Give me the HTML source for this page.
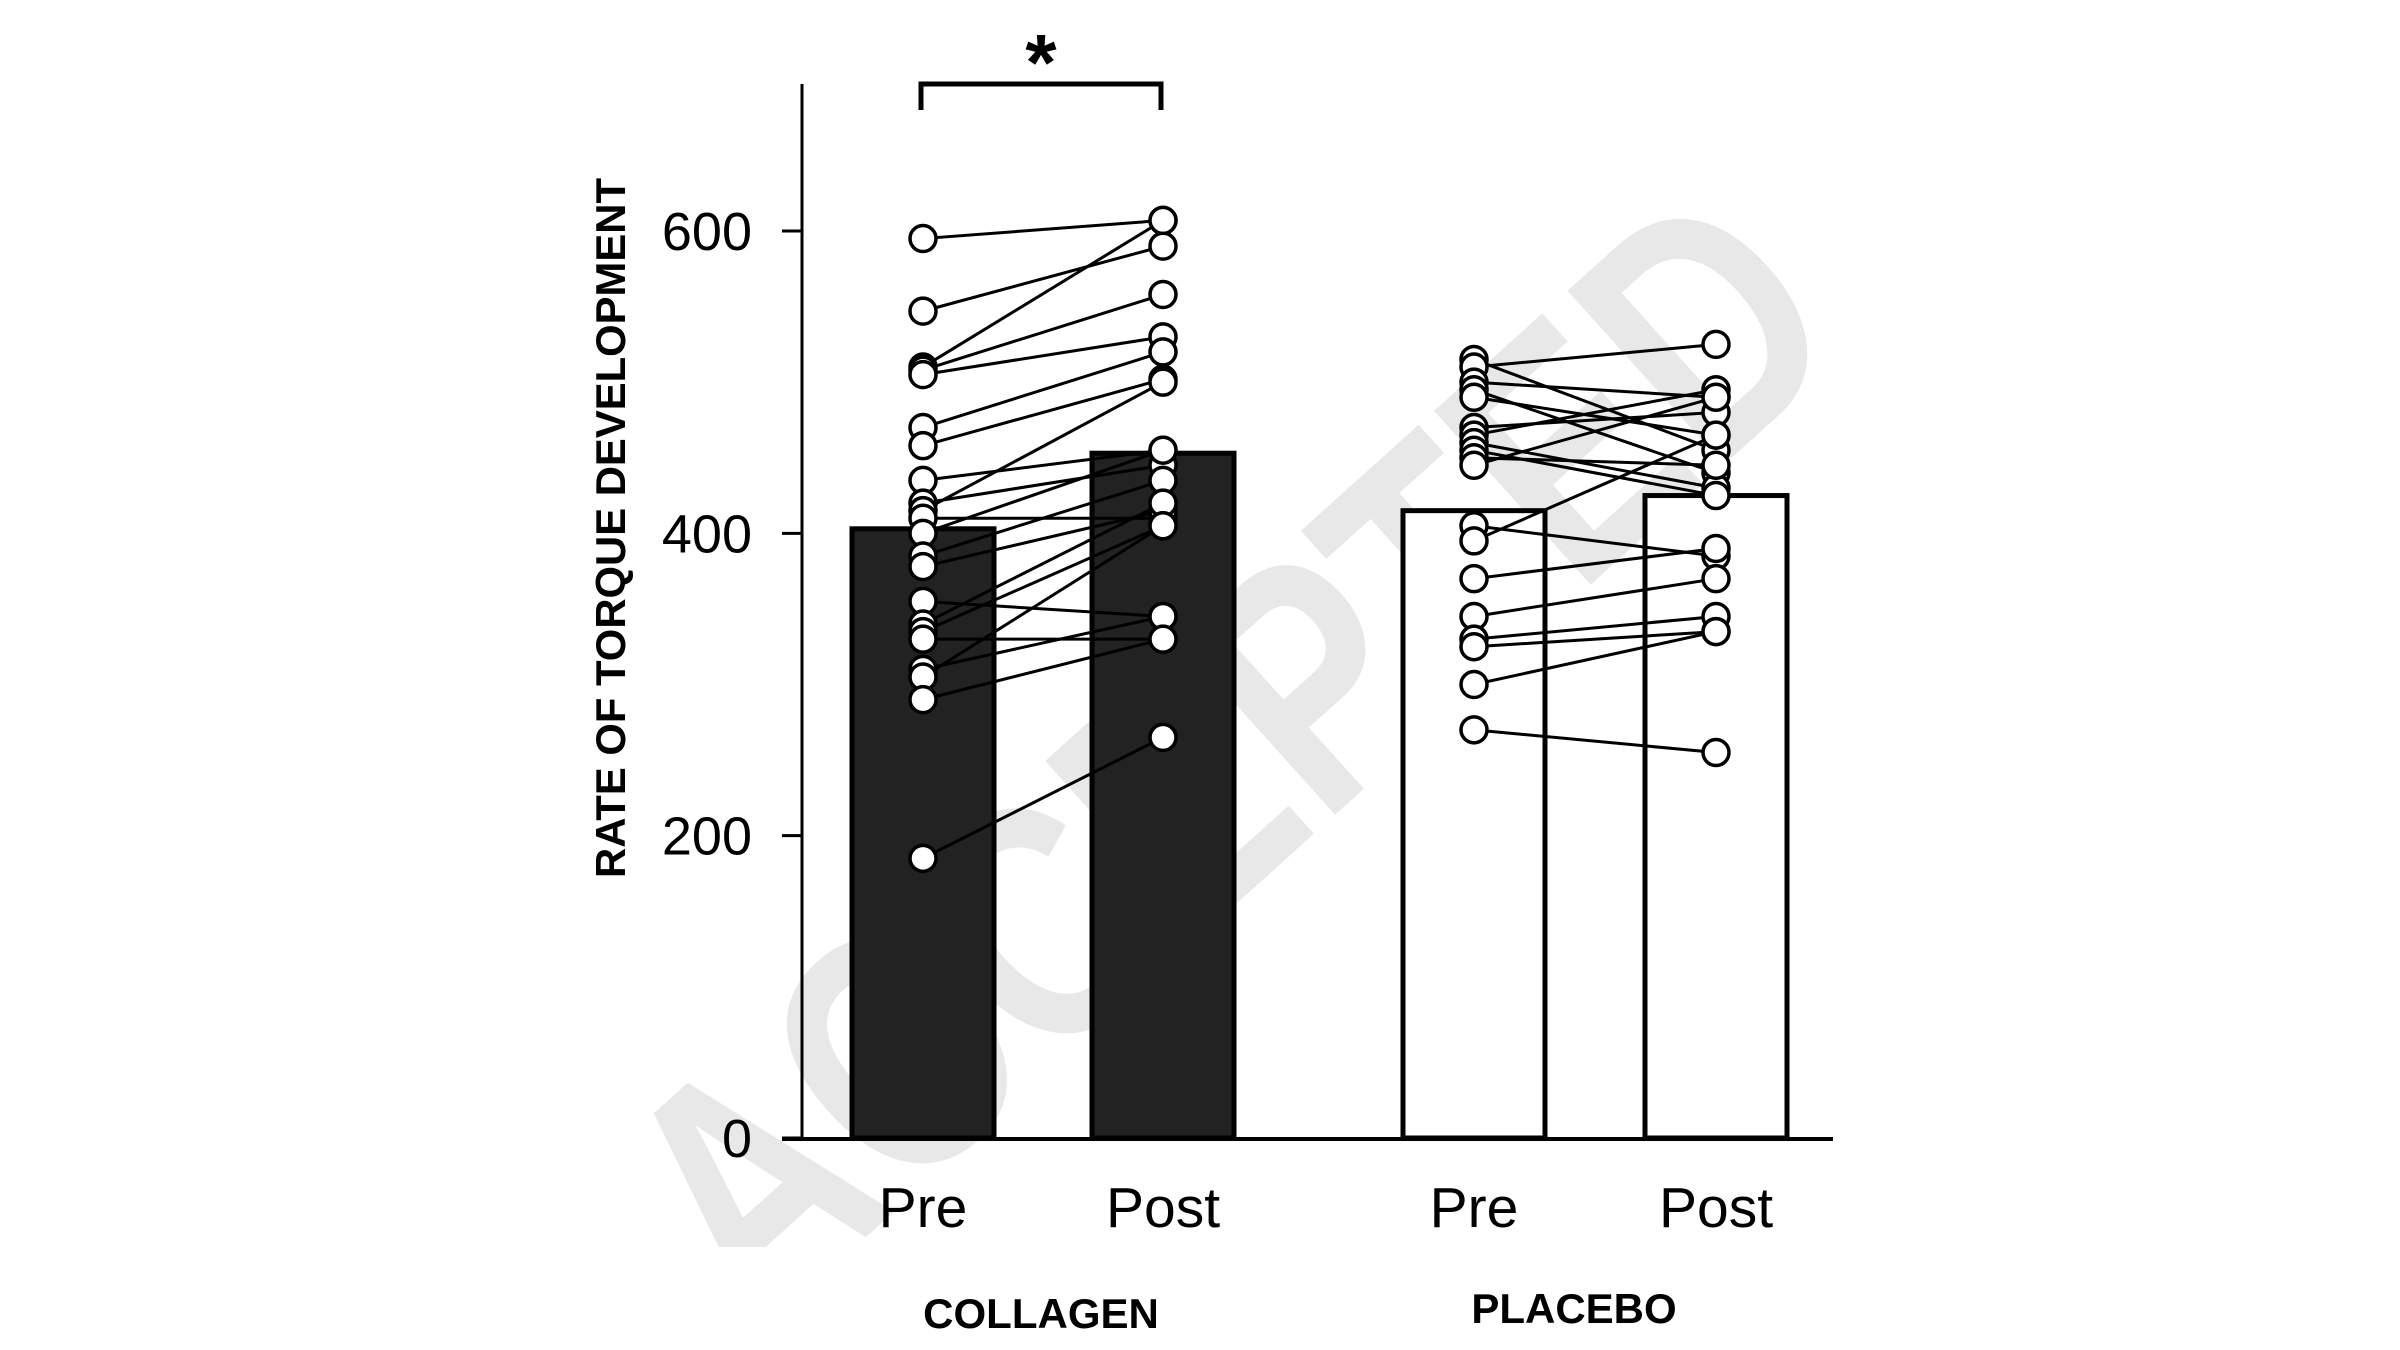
<!DOCTYPE html>
<html><head><meta charset="utf-8"><style>
html,body{margin:0;padding:0;background:#fff;width:2400px;height:1350px;overflow:hidden}
svg{display:block}
</style></head><body>
<svg id="chart" width="2400" height="1350" viewBox="0 0 2400 1350" xmlns="http://www.w3.org/2000/svg" style="overflow:hidden">
<defs><clipPath id="wmclip"><rect x="0" y="0" width="2400" height="1247"/></clipPath></defs>
<g clip-path="url(#wmclip)"><text x="0" y="0" transform="translate(1245,775) rotate(-42)" text-anchor="middle" dominant-baseline="middle" font-family="Liberation Sans, sans-serif" font-weight="bold" font-size="340" fill="#e8e8e8" textLength="1480" lengthAdjust="spacingAndGlyphs">ACCEPTED</text></g>
<g id="plot" transform="translate(-3,-6)"></g>
</svg>
<script>
const groups = ["COLLAGEN", "PLACEBO"];
const conditions = ["Pre", "Post"];
const barMeans = [403, 453, 415, 425];
const collagenPre  = [595,547,510,508,505,470,458,435,420,415,410,400,385,378,355,340,335,330,310,305,290,185];
const collagenPost = [607,590,607,558,530,520,502,455,445,500,410,455,435,415,345,420,405,330,345,405,330,265];
const placeboPre  = [515,510,500,495,490,470,465,460,455,450,445,405,395,370,345,330,325,300,270];
const placeboPost = [455,525,490,440,465,480,495,430,425,445,490,385,465,390,370,345,335,335,255];
const yTicks = [0,200,400,600];

const NS = "http://www.w3.org/2000/svg";
const g = document.getElementById("plot");
const y0 = 1144, yScale = (1144-237)/600;
const y = v => y0 - v*yScale;
const barX = [855, 1095, 1406, 1648], barW = 142;
const cx = i => barX[i] + barW/2;
function el(tag, attrs, parent){ const e=document.createElementNS(NS,tag); for(const k in attrs) e.setAttribute(k,attrs[k]); (parent||g).appendChild(e); return e; }

barMeans.forEach((m,i)=>{
  const r = el("rect",{x:barX[i],y:y(m),width:barW,height:y0-y(m),fill:i<2?"#222":"#fff",stroke:"#000","stroke-width":5});
  
  
});
const ya = el("line",{x1:805,y1:90,x2:805,y2:1146,stroke:"#000","stroke-width":3});


const xa = el("line",{x1:785,y1:1145,x2:1836,y2:1145,stroke:"#000","stroke-width":4});


yTicks.forEach(t=>{
  const tk = el("line",{x1:785,y1:y(t),x2:805,y2:y(t),stroke:"#000","stroke-width":3});
  
  
  const tl = el("text",{x:755,y:y(t)+19,"text-anchor":"end","font-family":"Liberation Sans, sans-serif","font-size":54,fill:"#000"});
  tl.textContent = t;
  
  
});
function pairs(pre, post, i0, i1, name){
  pre.forEach((v,k)=>{
    const l = el("line",{x1:cx(i0),y1:y(v),x2:cx(i1),y2:y(post[k]),stroke:"#000","stroke-width":3});
    
    
  });
  pre.forEach((v,k)=>{
    const c = el("circle",{cx:cx(i0),cy:y(v),r:13,fill:"#fff",stroke:"#000","stroke-width":3.5});
    
    
  });
  post.forEach((v,k)=>{
    const c = el("circle",{cx:cx(i1),cy:y(v),r:13,fill:"#fff",stroke:"#000","stroke-width":3.5});
    
    
  });
}
pairs(collagenPre, collagenPost, 0, 1, "collagen");
pairs(placeboPre, placeboPost, 2, 3, "placebo");
barMeans.forEach((m,i)=>{
  const t = el("text",{x:cx(i),y:1233,"text-anchor":"middle","font-family":"Liberation Sans, sans-serif","font-size":57,fill:"#000"});
  t.textContent = conditions[i%2];
  
  
});
[[1044,1334],[1577,1329]].forEach((p,i)=>{
  const t = el("text",{x:p[0],y:p[1],"text-anchor":"middle","font-family":"Liberation Sans, sans-serif","font-weight":"bold","font-size":42,fill:"#000"});
  t.textContent = groups[i];
  
  
});
const yt = el("text",{x:0,y:0,transform:"translate(628,534) rotate(-90)","text-anchor":"middle","font-family":"Liberation Sans Narrow, Liberation Sans, sans-serif","font-weight":"bold","font-size":42,fill:"#000",textLength:700,lengthAdjust:"spacingAndGlyphs"});
yt.textContent = "RATE OF TORQUE DEVELOPMENT";


const br = el("path",{d:"M"+(cx(0)-2)+",116 V90 H"+(cx(1)-2)+" V116",fill:"none",stroke:"#000","stroke-width":5});


const ast = el("text",{x:1044,y:96,"text-anchor":"middle","font-family":"Liberation Sans, sans-serif","font-weight":"bold","font-size":80,fill:"#000"});
ast.textContent = "*";


</script>
</body></html>
